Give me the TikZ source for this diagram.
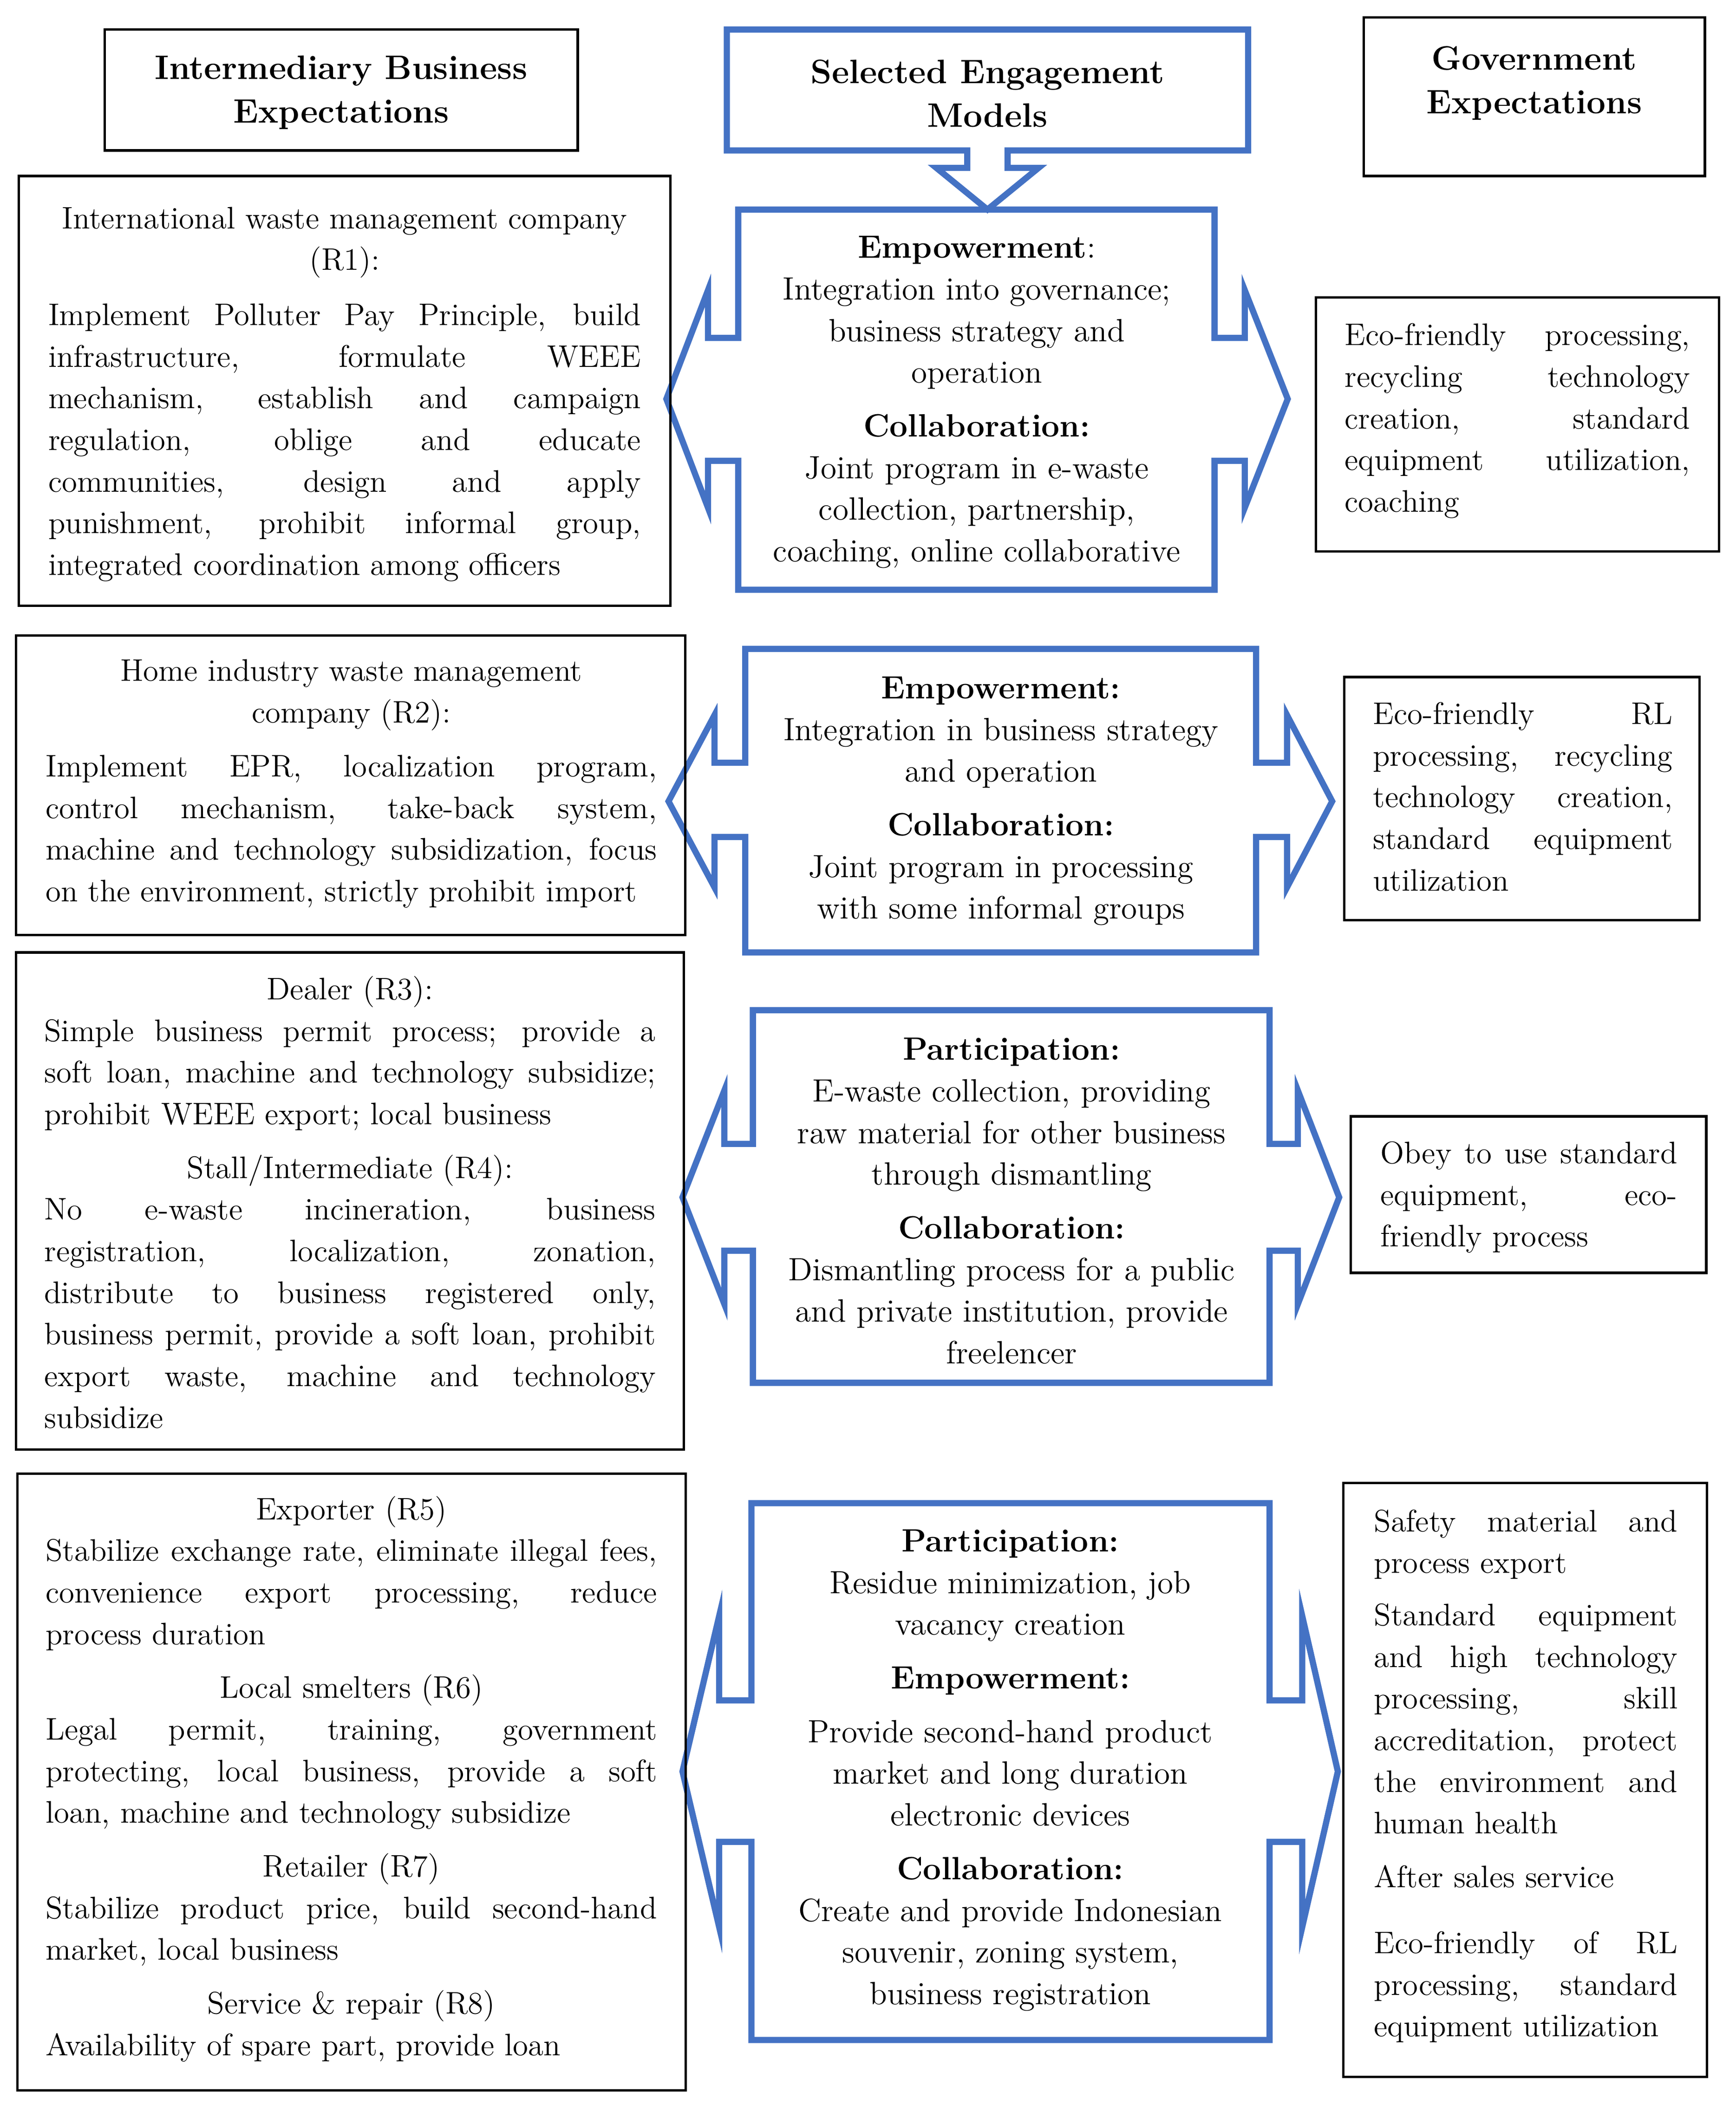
\documentclass[tikz,border=0pt]{standalone}
\usepackage{fontspec}
\usetikzlibrary{fit}
\definecolor{engblue}{RGB}{68,114,196}
\newcommand{\jb}[2]{\begin{minipage}[t]{#1}\fontsize{11.6}{15.5}\selectfont\tolerance=10000\hbadness=10000\parindent=0pt\parskip=0pt\hyphenpenalty=10000 #2\end{minipage}}
\newcommand{\ctr}[1]{{\centering #1\par}}
\tikzset{
  blk/.style={draw=black, line width=0.9pt, inner sep=0pt},
  blu/.style={draw=engblue, line width=2.3pt, line join=miter},
  txt/.style={inner sep=0pt, anchor=north},
  mid/.style={inner sep=0pt, anchor=north, align=center, font=\fontsize{12}{15.5}\selectfont},
  hdr/.style={inner sep=0pt, anchor=north, align=center, font=\fontsize{12.6}{16.2}\selectfont\bfseries},
}
\begin{document}
\begin{tikzpicture}[x=0.5pt,y=-0.5pt]
\useasboundingbox (0,0) rectangle (1292,1567);
\fill[white] (0,0) rectangle (1292,1567);

% ---------- headers ----------
\node[blk, fit={(78,22)(430,112)}] (h1) {};
\node[hdr] (h1t) at (254,36) {\strut Intermediary Business\\Expectations};

\draw[blu] (541,22) -- (929,22) -- (929,112) -- (750,112) -- (750,125) -- (773,125)
  -- (735,156) -- (697,125) -- (720,125) -- (720,112) -- (541,112) -- cycle;
\coordinate (h2) at (735,67);
\node[hdr] (h2t) at (735,39) {\strut Selected Engagement\\Models};

\node[blk, fit={(1015,13)(1269,131)}] (h3) {};
\node[hdr] (h3t) at (1142,29) {\strut Government\\Expectations};

% ---------- engagement shapes ----------
% row 1
\draw[blu] (549.5,156) -- (904,156) -- (904,251.6) -- (926.5,251.6) -- (926.5,216) -- (958.5,297)
  -- (926.5,378) -- (926.5,343) -- (904,343) -- (904,439) -- (549.5,439) -- (549.5,343)
  -- (527,343) -- (527,378) -- (496,297) -- (527,216) -- (527,251.6) -- (549.5,251.6) -- cycle;
% row 2
\draw[blu] (554.7,483) -- (935,483) -- (935,567.8) -- (958,567.8) -- (958,532.4) -- (991.6,596.5)
  -- (958,660.5) -- (958,623) -- (935,623) -- (935,709) -- (554.7,709) -- (554.7,623)
  -- (531.8,623) -- (531.8,660.5) -- (497.6,596.5) -- (531.8,532.4) -- (531.8,567.8) -- (554.7,567.8) -- cycle;
% row 3
\draw[blu] (560.4,752) -- (945,752) -- (945,851.5) -- (966,851.5) -- (966,811.7) -- (996.8,891.3)
  -- (966,970.9) -- (966,931) -- (945,931) -- (945,1029.4) -- (560.4,1029.4) -- (560.4,931)
  -- (539.2,931) -- (539.2,970.9) -- (508,891.3) -- (539.2,811.7) -- (539.2,851.5) -- (560.4,851.5) -- cycle;
% row 4
\draw[blu] (559.3,1119) -- (945,1119) -- (945,1265.8) -- (969.3,1265.8) -- (969.3,1203) -- (995.8,1318.7)
  -- (969.3,1434.5) -- (969.3,1371.1) -- (945,1371.1) -- (945,1518.6) -- (559.3,1518.6) -- (559.3,1371.1)
  -- (535.3,1371.1) -- (535.3,1434.5) -- (508,1318.7) -- (535.3,1203) -- (535.3,1265.8) -- (559.3,1265.8) -- cycle;

% ---------- middle texts ----------
\node[mid] (m1) at (727,170) {\strut\textbf{Empowerment}:\\Integration into governance;\\business strategy and\\operation\\[4.5pt]\textbf{Collaboration:}\\Joint program in e-waste\\collection, partnership,\\coaching, online collaborative};
\node[mid] (m2) at (745,498) {\strut\textbf{Empowerment:}\\Integration in business strategy\\and operation\\[4.5pt]\textbf{Collaboration:}\\Joint program in processing\\with some informal groups};
\node[mid] (m3) at (753,767) {\strut\textbf{Participation:}\\E-waste collection, providing\\raw material for other business\\through dismantling\\[4.5pt]\textbf{Collaboration:}\\Dismantling process for a public\\and private institution, provide\\freelencer};
\node[mid] (m4) at (752,1133) {\strut\textbf{Participation:}\\Residue minimization, job\\vacancy creation\\[4.5pt]\textbf{Empowerment:}\\[4.5pt]Provide second-hand product\\market and long duration\\electronic devices\\[4.5pt]\textbf{Collaboration:}\\Create and provide Indonesian\\souvenir, zoning system,\\business registration};

% ---------- left boxes ----------
\node[blk, fit={(14,131)(499,451)}] (l1) {};
\node[txt] (l1t) at (256.5,148) {\jb{220.5pt}{\ctr{\strut International waste management company\\(R1):}\vspace{5pt}
Implement Polluter Pay Principle, build\linebreak infrastructure, formulate WEEE\linebreak mechanism, establish and campaign\linebreak regulation, oblige and educate\linebreak communities, design and apply\linebreak punishment, prohibit informal group,\linebreak integrated coordination among officers}};

\node[blk, fit={(12,473)(510,696)}] (l2) {};
\node[txt] (l2t) at (261.5,485) {\jb{227.5pt}{\ctr{\strut Home industry waste management\\company (R2):}\vspace{4.5pt}
Implement EPR, localization program,\linebreak control mechanism, take-back system,\linebreak machine and technology subsidization, focus\linebreak on the environment, strictly prohibit import}};

\node[blk, fit={(12,709)(509,1079)}] (l3) {};
\node[txt] (l3t) at (260.5,722) {\jb{227.5pt}{\ctr{\strut Dealer (R3):}
Simple business permit process; provide a\linebreak soft loan, machine and technology subsidize;\linebreak prohibit WEEE export; local business\par\vspace{4.5pt}
\ctr{Stall/Intermediate (R4):}
No e-waste incineration, business\linebreak registration, localization, zonation,\linebreak distribute to business registered only,\linebreak business permit, provide a soft loan, prohibit\linebreak export waste, machine and technology\linebreak subsidize}};

\node[blk, fit={(13,1097)(510.5,1556)}] (l4) {};
\node[txt] (l4t) at (261.5,1109) {\jb{227.5pt}{\ctr{\strut Exporter (R5)}
Stabilize exchange rate, eliminate illegal fees,\linebreak convenience export processing, reduce\linebreak process duration\par\vspace{4.5pt}
\ctr{Local smelters (R6)}
Legal permit, training, government\linebreak protecting, local business, provide a soft\linebreak loan, machine and technology subsidize\par\vspace{4.5pt}
\ctr{Retailer (R7)}
Stabilize product price, build second-hand\linebreak market, local business\par\vspace{4.5pt}
\ctr{Service \& repair (R8)}
Availability of spare part, provide loan}};

% ---------- right boxes ----------
\node[blk, fit={(979.5,221.5)(1279.5,410.5)}] (r1) {};
\node[txt] (r1t) at (1129.5,235) {\jb{128.5pt}{\strut Eco-friendly processing,\linebreak recycling technology\linebreak creation, standard\linebreak equipment utilization,\linebreak coaching}};

\node[blk, fit={(1000.5,504)(1265,685)}] (r2) {};
\node[txt] (r2t) at (1133.5,517) {\jb{111.5pt}{\strut Eco-friendly RL\linebreak processing, recycling\linebreak technology creation,\linebreak standard equipment\linebreak utilization}};

\node[blk, fit={(1005.5,831)(1270,947.5)}] (r3) {};
\node[txt] (r3t) at (1138,844) {\jb{110.5pt}{\strut Obey to use standard\linebreak equipment, eco-\linebreak friendly process}};

\node[blk, fit={(1000,1104)(1270.5,1546)}] (r4) {};
\node[txt] (r4t) at (1135.7,1118) {\jb{113pt}{\strut Safety material and\linebreak process export\par\vspace{4pt}
Standard equipment\linebreak and high technology\linebreak processing, skill\linebreak accreditation, protect\linebreak the environment and\linebreak human health\par\vspace{4.5pt}
After sales service\par\vspace{9pt}
Eco-friendly of RL\linebreak processing, standard\linebreak equipment utilization}};
\end{tikzpicture}
\end{document}
